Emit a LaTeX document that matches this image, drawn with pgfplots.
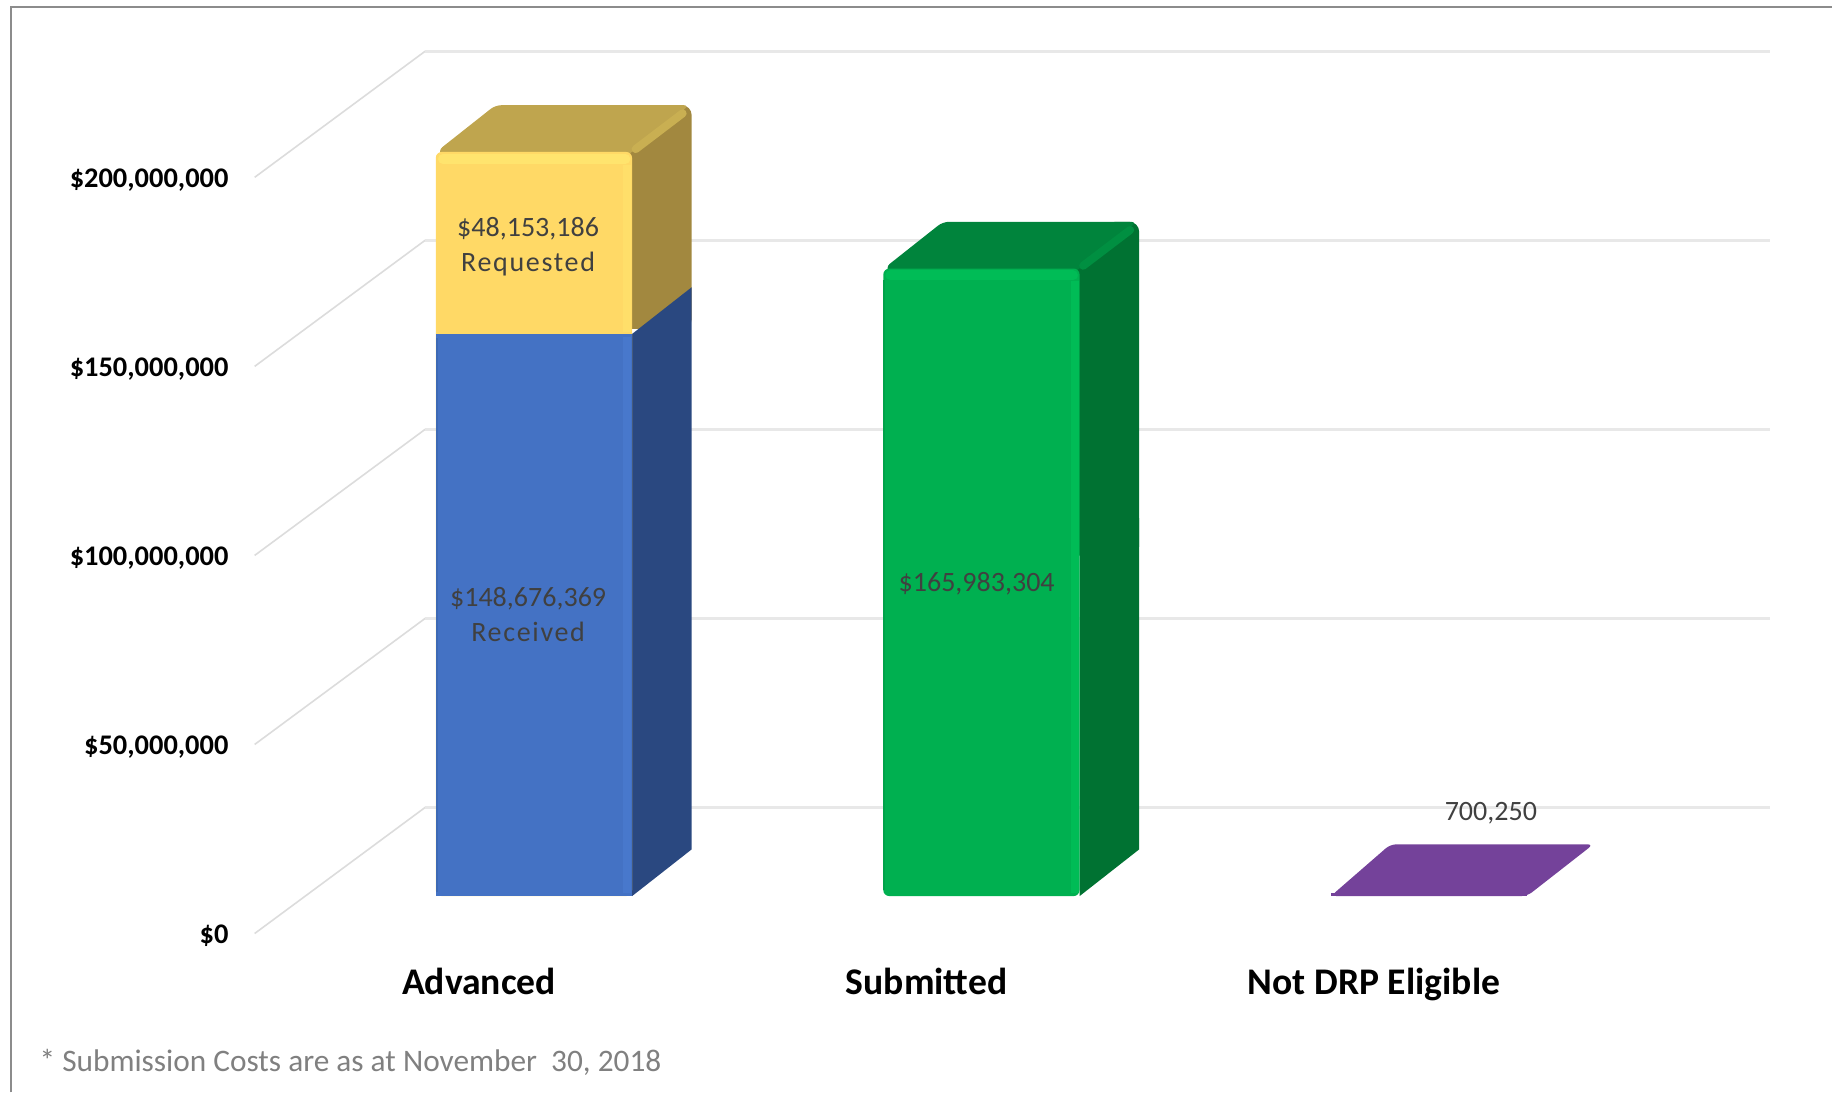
\documentclass[border=0pt]{standalone}
\usepackage{pgfplots}
\pgfplotsset{compat=1.18}
\usepackage{fontspec}
\setmainfont{Carlito}
\definecolor{gridback}{HTML}{E8E8E8}
\definecolor{gridside}{HTML}{DCDCDC}
\definecolor{yelF}{HTML}{FFD966}
\definecolor{yelH}{HTML}{FFE46E}
\definecolor{yelS}{HTML}{A2883F}
\definecolor{yelT}{HTML}{BFA54E}
\definecolor{yelB}{HTML}{C9AF52}
\definecolor{bluF}{HTML}{4472C4}
\definecolor{bluH}{HTML}{4878CC}
\definecolor{bluS}{HTML}{2A4880}
\definecolor{grnF}{HTML}{00B050}
\definecolor{grnH}{HTML}{00BC56}
\definecolor{grnS}{HTML}{007232}
\definecolor{grnT}{HTML}{00843C}
\definecolor{grnB}{HTML}{008F41}
\definecolor{purF}{HTML}{74429A}
\definecolor{lab}{HTML}{404040}
\newcommand{\wide}{\addfontfeatures{LetterSpace=6}}
\begin{document}
\begin{tikzpicture}
\path[use as bounding box] (0,0) rectangle (915.7pt,546pt);
\begin{axis}[
  at={(127.3pt,79.4pt)}, anchor=south west,
  scale only axis, width=757.45pt, height=441.5pt,
  xmin=-0.5013, xmax=2.885,
  ymin=-9890000, ymax=223730000,
  clip=false,
  axis line style={draw=none},
  tick style={draw=none},
  xtick={0,1,2},
  xticklabels={Advanced,Submitted,Not DRP Eligible},
  xticklabel style={font=\bfseries\fontsize{18.8}{20}\selectfont, yshift=-14pt, text=black},
  ytick={-9890000,40110000,90110000,140110000,190110000},
  yticklabels={{\$0},{\$50,000,000},{\$100,000,000},{\$150,000,000},{\$200,000,000}},
  yticklabel style={font=\bfseries\fontsize{14.2}{16}\selectfont, xshift=-9.6pt, yshift=-1.2pt, text=black},
  scaled y ticks=false,
]
% side wall gridlines
\addplot[gridside, line width=0.8pt] coordinates {(-0.5013,-9890000) (-0.1201,23480000)};
\addplot[gridside, line width=0.8pt] coordinates {(-0.5013,40110000) (-0.1201,73480000)};
\addplot[gridside, line width=0.8pt] coordinates {(-0.5013,90110000) (-0.1201,123480000)};
\addplot[gridside, line width=0.8pt] coordinates {(-0.5013,140110000) (-0.1201,173480000)};
\addplot[gridside, line width=0.8pt] coordinates {(-0.5013,190110000) (-0.1201,223480000)};
% back wall gridlines
\addplot[gridback, line width=1.4pt] coordinates {(-0.1201,23480000) (2.885,23480000)};
\addplot[gridback, line width=1.4pt] coordinates {(-0.1201,73480000) (2.885,73480000)};
\addplot[gridback, line width=1.4pt] coordinates {(-0.1201,123480000) (2.885,123480000)};
\addplot[gridback, line width=1.4pt] coordinates {(-0.1201,173480000) (2.885,173480000)};
\addplot[gridback, line width=1.4pt] coordinates {(-0.1201,223480000) (2.885,223480000)};
% Advanced: side and top faces
\addplot[fill=yelS, draw=none, rounded corners=5pt] coordinates {(0.322,150000000) (0.4752,150000000) (0.4752,209189555) (0.40,209189555) (0.322,194969555)} -- cycle;
\addplot[fill=bluS, draw=none] coordinates {(0.342,0) (0.4752,12360000) (0.4752,161036369) (0.342,148676369)} -- cycle;
\addplot[fill=yelT, draw=none, rounded corners=3pt] coordinates {(-0.0766,194800000) (-0.0926,197100000) (0.0366,209189555) (0.4702,209189555) (0.322,194969555)} -- cycle;
\addplot[yelB, line width=4pt, line cap=round] coordinates {(0.35,197570000) (0.455,207030000)};
% Advanced: front faces
\addplot[ybar, bar width=98.1pt, bar shift=0pt, fill=yelF, draw=none, rounded corners=3pt] coordinates {(0.1227,196829555)};
\addplot[ybar, bar width=98.1pt, bar shift=0pt, fill=bluF, draw=none] coordinates {(0.1227,148676369)};
\addplot[yelH, line width=5pt, line cap=round] coordinates {(-0.0806,195000000) (0.327,195000000)};
\addplot[yelH!50!yelF, line width=4pt] coordinates {(0.3315,149200000) (0.3315,193500000)};
\addplot[bluH, line width=4pt] coordinates {(0.3315,800000) (0.3315,148000000)};
\addplot[bluF!92!black, line width=1.2pt] coordinates {(-0.0945,1000000) (-0.0945,147500000)};
% Submitted: side and top faces
\addplot[fill=grnS, draw=none] coordinates {(1.342,0) (1.4752,12360000) (1.4752,100000000) (1.342,100000000)} -- cycle;
\addplot[fill=grnS, draw=none, rounded corners=5pt] coordinates {(1.322,90000000) (1.4752,90000000) (1.4752,178343304) (1.40,178343304) (1.322,164123304)} -- cycle;
\addplot[fill=grnT, draw=none, rounded corners=3pt] coordinates {(0.9234,163950000) (0.9074,166250000) (1.0366,178343304) (1.4702,178343304) (1.322,164123304)} -- cycle;
\addplot[grnB, line width=4pt, line cap=round] coordinates {(1.35,166720000) (1.455,176180000)};
% Submitted: front face
\addplot[ybar, bar width=98.1pt, bar shift=0pt, fill=grnF, draw=none, rounded corners=3pt] coordinates {(1.1227,165983304)};
\addplot[grnH, line width=5pt, line cap=round] coordinates {(0.9194,164150000) (1.327,164150000)};
\addplot[grnH, line width=4pt] coordinates {(1.3315,800000) (1.3315,162700000)};
\addplot[grnF!92!black, line width=1.2pt] coordinates {(0.9055,1500000) (0.9055,163000000)};
% Not DRP Eligible
\addplot[fill=purF, draw=none, rounded corners=3pt] coordinates {(1.9034,0) (2.0366,13700000) (2.4902,13700000) (2.342,0)} -- cycle;
\addplot[ybar, bar width=98.1pt, bar shift=0pt, fill=purF, draw=none] coordinates {(2.1227,700250)};
% data labels
\node[font=\fontsize{14}{17.5}\selectfont, text=lab, align=center] at (axis cs:0.1097,74500000) {\$148,676,369\\{\wide Received}};
\node[font=\fontsize{14}{17.5}\selectfont, text=lab, align=center] at (axis cs:0.1097,171800000) {\$48,153,186\\{\wide Requested}};
\node[font=\fontsize{14}{17.5}\selectfont, text=lab] at (axis cs:1.112,82500000) {\$165,983,304};
\node[font=\fontsize{14}{17.5}\selectfont, text=lab] at (axis cs:2.261,22000000) {700,250};
\end{axis}
\draw[gray!90, line width=1pt] (5.3pt,0) -- (5.3pt,542.5pt) -- (915.7pt,542.5pt);
\node[anchor=west, inner sep=0pt, font=\fontsize{15.65}{17}\selectfont, text=gray] at (19.6pt,15.2pt) {* Submission Costs are as at November\ \ 30, 2018};
\end{tikzpicture}
\end{document}
